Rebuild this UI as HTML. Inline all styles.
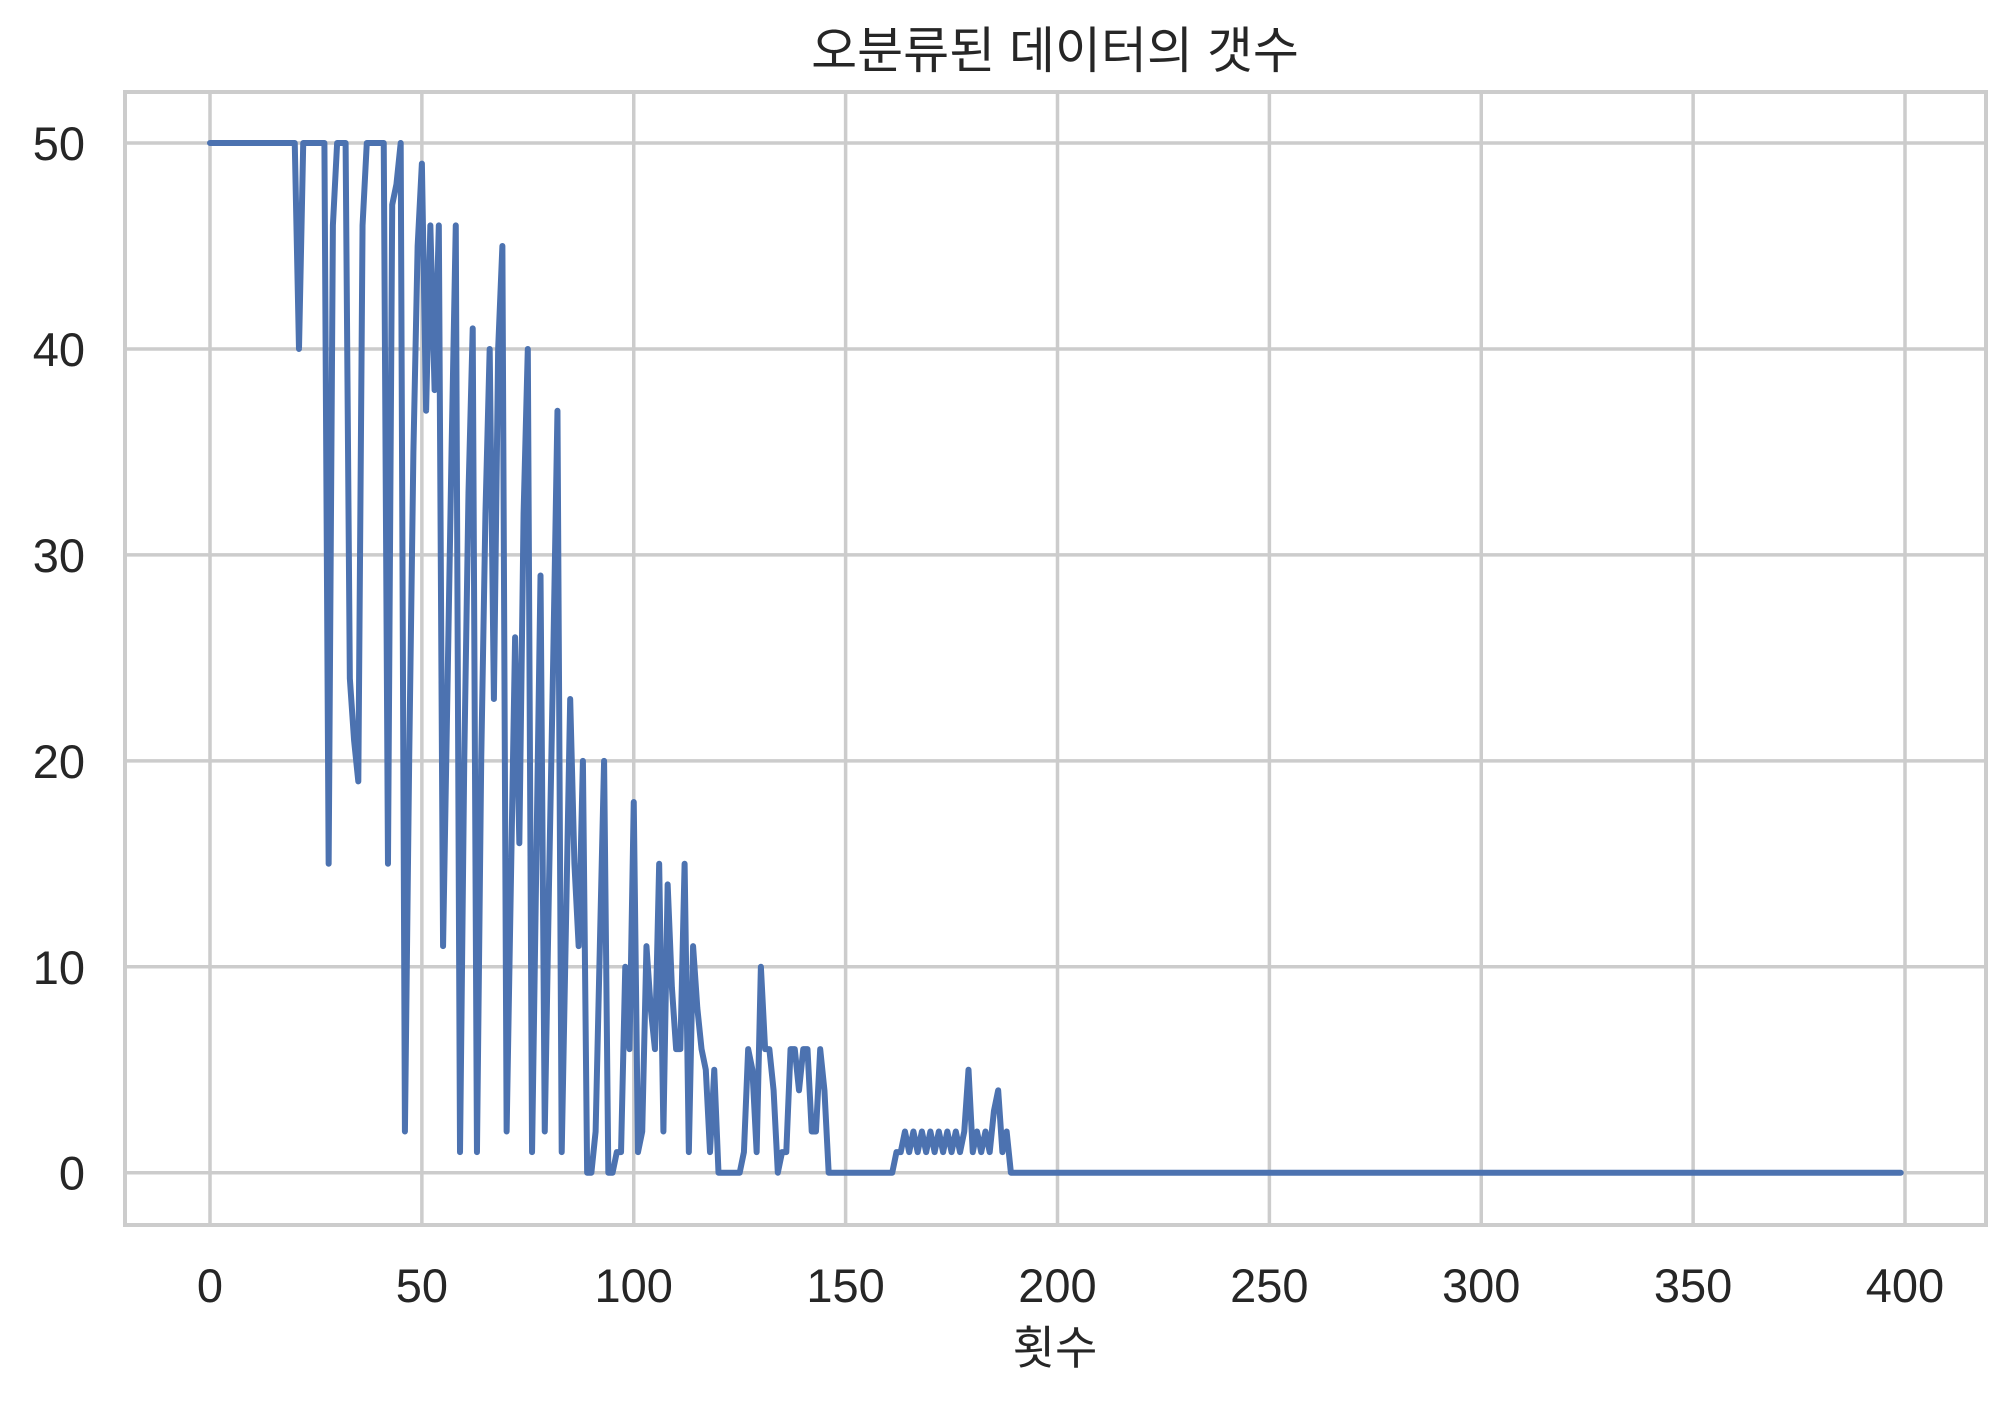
<!DOCTYPE html>
<html><head><meta charset="utf-8"><style>
html,body{margin:0;padding:0;background:#fff;}
svg text{font-family:"Liberation Sans","Noto Sans CJK KR",sans-serif;fill:#262626;}
</style></head><body>
<svg width="2015" height="1403" viewBox="0 0 2015 1403">
<g id="grid"></g>
<g id="labels"></g>
<rect x="125" y="92" width="1861" height="1133" fill="none" stroke="#cccccc" stroke-width="4"/>
<path id="series" fill="none" stroke="#4c72b0" stroke-width="6" stroke-linejoin="round" stroke-linecap="round"/>
<text x="1055" y="68" font-size="50" text-anchor="middle">오분류된 데이터의 갯수</text>
<text x="1055" y="1364" font-size="46" text-anchor="middle">횟수</text>
</svg>
<script>
const xTicks = [0, 50, 100, 150, 200, 250, 300, 350, 400];
const yTicks = [0, 10, 20, 30, 40, 50];
const errors = [50,50,50,50,50,50,50,50,50,50,50,50,50,50,50,50,50,50,50,50,
50,40,50,50,50,50,50,50,15,46,50,50,50,24,21,19,46,50,50,50,
50,50,15,47,48,50,2,20,35,45,49,37,46,38,46,11,23,35,46,1,
20,33,41,1,20,32,40,23,40,45,2,14,26,16,32,40,1,15,29,2,
14,25,37,1,12,23,15,11,20,0,0,2,11,20,0,0,1,1,10,6,
18,1,2,11,8,6,15,2,14,9,6,6,15,1,11,8,6,5,1,5,
0,0,0,0,0,0,1,6,5,1,10,6,6,4,0,1,1,6,6,4,
6,6,2,2,6,4,0,0,0,0,0,0,0,0,0,0,0,0,0,0,
0,0,1,1,2,1,2,1,2,1,2,1,2,1,2,1,2,1,2,5,
1,2,1,2,1,3,4,1,2,0];
while (errors.length < 400) errors.push(0);
const X0 = 210, XS = (1905 - 210) / 400;
const Y0 = 1172.7, YS = (1172.7 - 143) / 50;
const sx = v => X0 + v * XS;
const sy = v => Y0 - v * YS;
const NS = "http://www.w3.org/2000/svg";
const grid = document.getElementById('grid');
const labels = document.getElementById('labels');
xTicks.forEach(t => {
  const l = document.createElementNS(NS, 'line');
  l.setAttribute('x1', sx(t)); l.setAttribute('x2', sx(t));
  l.setAttribute('y1', 92); l.setAttribute('y2', 1225);
  l.setAttribute('stroke', '#cccccc'); l.setAttribute('stroke-width', '3.5');
  
  
  grid.appendChild(l);
  const tx = document.createElementNS(NS, 'text');
  tx.setAttribute('x', sx(t)); tx.setAttribute('y', 1302);
  tx.setAttribute('font-size', '47'); tx.setAttribute('text-anchor', 'middle');
  tx.textContent = t;
  
  
  labels.appendChild(tx);
});
yTicks.forEach(t => {
  const l = document.createElementNS(NS, 'line');
  l.setAttribute('x1', 125); l.setAttribute('x2', 1986);
  l.setAttribute('y1', sy(t)); l.setAttribute('y2', sy(t));
  l.setAttribute('stroke', '#cccccc'); l.setAttribute('stroke-width', '3.5');
  
  
  grid.appendChild(l);
  const tx = document.createElementNS(NS, 'text');
  tx.setAttribute('x', 85); tx.setAttribute('y', sy(t) + 17);
  tx.setAttribute('font-size', '47'); tx.setAttribute('text-anchor', 'end');
  tx.textContent = t;
  
  
  labels.appendChild(tx);
});
document.getElementById('series').setAttribute('d',
  errors.map((v, i) => (i ? 'L' : 'M') + sx(i).toFixed(2) + ' ' + sy(v).toFixed(2)).join(' '));
</script>
</body></html>
